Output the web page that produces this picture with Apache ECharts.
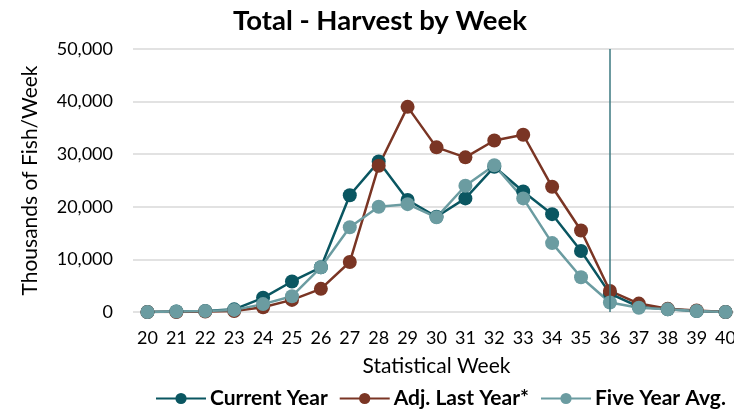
<!DOCTYPE html>
<html>
<head>
<meta charset="utf-8">
<script src="https://cdn.jsdelivr.net/npm/echarts@6/dist/echarts.min.js"></script>
<style>
    html, body { margin: 0; padding: 0; background: #fff; }
    #chart { width: 734px; height: 411px; }
</style>
</head>
<body>
<div id="chart"></div>
<script>
    // 统计周
    var weeks = ['20', '21', '22', '23', '24', '25', '26', '27', '28', '29', '30',
        '31', '32', '33', '34', '35', '36', '37', '38', '39', '40'];

    // 千尾/周
    var currentYear = [0, 100, 200, 500, 2700, 5800, 8500, 22200, 28600, 21300, 18100,
        21600, 27600, 22900, 18600, 11600, 3500, 1000, 500, 200, 0];
    var adjLastYear = [0, 0, 100, 200, 900, 2300, 4400, 9500, 27800, 39000, 31300,
        29400, 32600, 33700, 23800, 15500, 4000, 1600, 600, 300, 0];
    var fiveYearAvg = [0, 100, 200, 400, 1500, 3000, 8500, 16100, 20000, 20500, 18000,
        24000, 27900, 21600, 13100, 6600, 1800, 800, 500, 200, 0];

    var markWeek = '36';

    var chart = echarts.init(document.getElementById('chart'));

    function lineSeries(name, color, data) {
        return {
            name: name,
            type: 'line',
            data: data,
            symbol: 'circle',
            symbolSize: 14,
            lineStyle: { color: color, width: 2.5 },
            itemStyle: { color: color },
            emphasis: { disabled: true }
        };
    }

    var series = [
        lineSeries('Current Year', '#0a5661', currentYear),
        lineSeries('Adj. Last Year*', '#7a3524', adjLastYear),
        lineSeries('Five Year Avg.', '#6b9ca1', fiveYearAvg)
    ];

    // 竖线
    series[0].markLine = {
        silent: true,
        symbol: 'none',
        label: { show: false },
        lineStyle: { color: '#3b7880', width: 1.5, type: 'solid' },
        data: [{ xAxis: markWeek }]
    };

    chart.setOption({
        animation: false,
        backgroundColor: '#fff',
        title: {
            text: 'Total - Harvest by Week',
            left: 228,
            top: 2,
            textStyle: { fontFamily: 'Lato', fontWeight: 'bold', fontSize: 27.5, color: '#000' }
        },
        legend: {
            data: ['Current Year', 'Adj. Last Year*', 'Five Year Avg.'],
            left: 155,
            bottom: 2,
            padding: 0,
            itemWidth: 50,
            itemHeight: 14,
            itemGap: 11,
            textStyle: { fontFamily: 'Lato', fontWeight: 'bold', fontSize: 21, color: '#000', padding: [0, 0, 0, -1] }
        },
        grid: {
            left: 133,
            width: 607,
            top: 49,
            bottom: 99,
            outerBoundsMode: 'none'
        },
        xAxis: {
            type: 'category',
            data: weeks,
            boundaryGap: true,
            name: 'Statistical Week',
            nameLocation: 'middle',
            nameGap: 44,
            nameTextStyle: { fontFamily: 'Lato', fontSize: 21, color: '#000' },
            axisLine: { show: false },
            axisTick: { show: false },
            axisLabel: { fontFamily: 'Lato', fontSize: 18, color: '#000', margin: 17 }
        },
        yAxis: {
            type: 'value',
            min: 0,
            max: 50000,
            interval: 10000,
            name: 'Thousands of Fish/Week',
            nameLocation: 'middle',
            nameGap: 92,
            nameTextStyle: { fontFamily: 'Lato', fontSize: 21, color: '#000' },
            axisLine: { show: false },
            axisTick: { show: false },
            splitLine: { lineStyle: { color: '#d9d9d9', width: 1.5 } },
            axisLabel: {
                fontFamily: 'Lato',
                fontSize: 18,
                color: '#000',
                margin: 20,
                formatter: function (v) { return v.toLocaleString('en-US'); }
            }
        },
        series: series
    });
</script>
</body>
</html>
